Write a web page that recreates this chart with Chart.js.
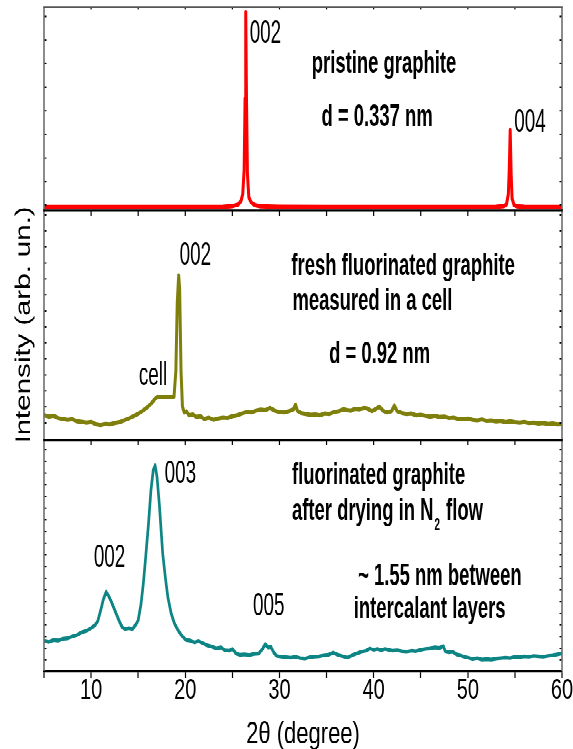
<!DOCTYPE html>
<html>
<head>
<meta charset="utf-8">
<script src="https://cdn.jsdelivr.net/npm/chart.js@4.4.1/dist/chart.umd.min.js"></script>
<style>
  html, body { margin: 0; padding: 0; background: #fff; }
  body { height: 749px; }
  /* the original figure is stretched vertically, so the whole drawing is */
  #wrap { position: relative; width: 573px; height: 535px; transform: scaleY(1.4); transform-origin: 0 0; }
  #wrap canvas { position: absolute; left: 0; top: 0; }
</style>
</head>
<body>
<div id="wrap">
  <canvas id="c1" width="573" height="535"></canvas>
  <canvas id="c2" width="573" height="535"></canvas>
  <canvas id="c3" width="573" height="535"></canvas>
</div>
<script>
// ---- data (2theta in degrees, intensity in arb. units, 0-100 per panel) ----
var pristineX = [5, 10, 15, 20, 24, 25, 25.6, 25.9, 26.1, 26.25, 26.35, 26.42, 26.5, 26.6, 26.75, 27.0, 27.4, 28, 30, 35, 40, 45, 50, 53, 53.8, 54.1, 54.3, 54.4, 54.5, 54.6, 54.7, 54.9, 55.2, 56, 58, 60];
var pristineY = [1.7, 1.7, 1.7, 1.7, 1.8, 2.2, 3.0, 4.5, 8, 20, 55, 97.7, 55, 18, 6.5, 4.0, 2.7, 2.1, 1.8, 1.7, 1.7, 1.7, 1.7, 1.8, 2.2, 3.0, 8, 20, 39.6, 18, 6, 2.8, 2.1, 1.8, 1.7, 1.7];

var freshX = [5, 5.5, 6, 6.5, 7, 7.5, 8, 8.5, 9, 9.5, 10, 10.5, 11, 11.5, 12, 12.5, 13, 13.5, 14, 14.5, 15, 15.5, 16, 16.4, 16.8, 17.0, 18.8, 19.0, 19.15, 19.3, 19.4, 19.55, 19.7, 19.9, 20.1, 20.4, 20.8, 21.2, 21.6, 22, 22.5, 23, 23.5, 24, 24.5, 25, 25.5, 26, 26.5, 27, 27.5, 28, 28.5, 29, 29.5, 30, 30.5, 31, 31.5, 31.7, 31.9, 32.3, 32.8, 33.3, 33.8, 34.3, 34.8, 35.3, 35.8, 36.3, 36.8, 37.2, 37.6, 38.0, 38.5, 39.0, 39.3, 39.8, 40.2, 40.6, 41.0, 41.4, 41.9, 42.2, 42.5, 43, 43.5, 44, 44.5, 45, 45.5, 46, 46.5, 47, 47.5, 48, 48.5, 49, 49.5, 50, 50.5, 51, 51.5, 52, 52.5, 53, 53.5, 54, 54.5, 55, 55.5, 56, 56.5, 57, 57.5, 58, 58.5, 59, 59.5, 60];
var freshY = [10.9, 10.2, 10.6, 9.6, 9.2, 8.8, 9.1, 8.2, 8.0, 7.6, 7.9, 6.9, 6.5, 7.0, 6.8, 7.4, 7.8, 8.6, 9.4, 10.4, 11.5, 12.8, 14.4, 16.0, 18.0, 18.8, 18.8, 30, 60, 71.7, 66, 30, 14.5, 12.0, 12.6, 10.8, 11.2, 10.0, 10.4, 9.2, 9.8, 8.8, 9.4, 9.8, 9.6, 10.4, 10.8, 11.6, 12.2, 12.0, 12.8, 13.2, 13.0, 14.0, 12.8, 12.2, 12.0, 12.6, 13.4, 15.5, 12.8, 11.8, 11.4, 11.0, 11.2, 10.8, 11.6, 11.4, 12.2, 12.6, 13.4, 13.0, 12.8, 13.6, 13.4, 14.0, 13.8, 12.6, 13.4, 14.6, 12.8, 12.0, 12.6, 15.0, 12.6, 11.8, 11.4, 11.6, 10.8, 11.0, 10.6, 10.2, 10.6, 10.0, 10.2, 9.6, 9.8, 9.2, 9.0, 9.4, 8.8, 8.6, 9.0, 8.4, 8.6, 8.2, 8.4, 7.8, 8.2, 7.8, 7.6, 7.9, 7.4, 7.6, 7.2, 7.4, 7.0, 7.2, 6.8, 6.9];

var driedX = [5, 5.5, 6, 6.5, 7, 7.5, 8, 8.5, 9, 9.5, 10, 10.4, 10.7, 11.0, 11.3, 11.6, 11.8, 12.1, 12.4, 12.7, 13.0, 13.3, 13.6, 14.0, 14.4, 14.8, 15.0, 15.3, 15.55, 15.8, 16.1, 16.35, 16.6, 16.8, 17.0, 17.25, 17.6, 17.9, 18.15, 18.5, 18.85, 19.3, 19.7, 20.1, 20.5, 21.0, 21.4, 21.8, 22.3, 22.8, 23.3, 23.8, 24.2, 24.7, 25.0, 25.4, 25.8, 26.3, 26.8, 27.3, 27.8, 28.2, 28.5, 28.8, 29.1, 29.4, 29.7, 30.2, 30.7, 31.2, 31.7, 32.2, 32.7, 33.2, 33.7, 34.2, 34.7, 35.2, 35.7, 36.2, 36.7, 37.2, 37.7, 38.2, 38.7, 39.2, 39.6, 40.0, 40.4, 40.8, 41.2, 41.6, 42.0, 42.5, 43.0, 43.5, 44.0, 44.5, 45.0, 45.5, 46.0, 46.5, 47.0, 47.4, 47.6, 48.0, 48.4, 48.8, 49.2, 49.6, 50.0, 50.5, 51.0, 51.5, 52.0, 52.5, 53.0, 53.5, 54.0, 54.5, 55.0, 55.5, 56.0, 56.5, 57.0, 57.5, 58.0, 58.5, 59.0, 59.5, 60.0];
var driedY = [13.1, 12.6, 13.4, 13.2, 14.0, 14.2, 15.0, 15.6, 16.8, 17.4, 18.6, 19.8, 21.5, 26.0, 31.0, 34.3, 33.0, 30.5, 27.5, 24.5, 21.5, 19.0, 18.2, 18.6, 18.2, 20.4, 22.0, 29.0, 38.0, 49.5, 64.0, 78.0, 87.0, 89.0, 84.0, 72.0, 51.0, 40.0, 32.0, 25.0, 20.6, 17.2, 15.0, 13.4, 13.2, 12.4, 13.0, 12.2, 11.2, 10.6, 9.8, 10.2, 9.0, 8.8, 9.6, 7.6, 7.0, 7.2, 6.9, 7.4, 7.6, 9.6, 11.7, 10.2, 10.4, 8.0, 6.6, 6.2, 6.0, 5.8, 6.2, 5.6, 5.4, 6.0, 6.2, 6.4, 6.8, 7.0, 8.0, 7.0, 6.4, 5.8, 6.8, 7.6, 8.4, 8.8, 9.8, 9.2, 9.6, 9.0, 9.6, 9.2, 8.8, 9.0, 8.6, 8.4, 8.8, 8.6, 9.2, 9.6, 9.8, 10.2, 10.0, 10.8, 8.6, 8.2, 8.4, 7.2, 6.8, 6.2, 5.8, 5.2, 5.6, 5.0, 5.2, 5.0, 5.4, 5.6, 5.8, 5.6, 6.2, 6.0, 6.4, 6.2, 6.6, 6.4, 6.2, 6.6, 6.8, 7.2, 7.7];

var xTickLabels = [10, 20, 30, 40, 50, 60];

// annotations: [text, 2theta of left edge, intensity of baseline, bold]
var pristineNotes = [['002', 26.84, 82.5, false], ['pristine graphite', 33.43, 67.7, true], ['d = 0.337 nm', 34.46, 41.6, true], ['004', 54.93, 38.8, false]];
var freshNotes = [['002', 19.4, 76.3, false], ['fresh fluorinated graphite', 31.27, 71.9, true], ['measured in a cell', 31.38, 56.6, true], ['d = 0.92 nm', 35.27, 33.4, true], ['cell', 15.07, 24.0, false]];
var driedNotes = [['003', 17.81, 81.5, false], ['002', 10.29, 45.1, false], ['005', 27.19, 24.2, false], ['fluorinated graphite', 31.33, 80.9, true], ['after drying in N|2| flow', 31.33, 65.4, true], ['~ 1.55 nm between', 38.35, 37.2, true], ['intercalant layers', 37.89, 22.8, true]];

var SANS = '"Liberation Sans", Arial, sans-serif';
var NARROW_K = 0.82;   // Arial Narrow ~ 82% of Arial width

function toPoints(xs, ys) {
    return xs.map((v, i) => ({x: v, y: ys[i]}));
}

const panelDeco = {
    id: 'panelDeco',
    afterDraw(chart, args, o) {
        const ctx = chart.ctx, a = chart.chartArea, x = chart.scales.x, y = chart.scales.y;
        ctx.save();
        function seg(x1, y1, x2, y2) { ctx.beginPath(); ctx.moveTo(x1, y1); ctx.lineTo(x2, y2); ctx.stroke(); }
        function narrowText(t, px, py, font) {
            ctx.save();
            ctx.font = font;
            ctx.translate(px, py);
            ctx.scale(NARROW_K, 1);
            ctx.fillText(t, 0, 0);
            const w = ctx.measureText(t).width * NARROW_K;
            ctx.restore();
            return w;
        }
        // small inward ticks on left and right axes
        ctx.strokeStyle = '#000';
        ctx.lineWidth = 1;
        for (let v = o.yTickStart; v < 100; v += o.yTickStep) {
            const py = y.getPixelForValue(v);
            seg(a.left, py, a.left + 2.5, py);
            seg(a.right - 2.5, py, a.right, py);
        }
        // inward ticks along the top edge
        ctx.lineWidth = 1.2;
        for (let v = 10; v < 60; v += 5) {
            const px = x.getPixelForValue(v);
            seg(px, a.top, px, a.top + o.topTickLen);
        }
        // frame
        ctx.strokeStyle = '#6e6e6e';
        ctx.lineWidth = 1.6;
        seg(a.left, a.top, a.left, a.bottom);
        seg(a.right, a.top, a.right, a.bottom);
        ctx.strokeStyle = o.topColor;
        ctx.lineWidth = o.topWidth;
        seg(a.left - 0.8, a.top, a.right + 0.8, a.top);
        // annotations
        ctx.fillStyle = '#000';
        ctx.textBaseline = 'alphabetic';
        o.notes.forEach(n => {
            const px = x.getPixelForValue(n[1]), py = y.getPixelForValue(n[2]);
            const font = (n[3] ? 'bold 22.5px ' : '23px ') + SANS;
            let cx = px;
            n[0].split('|').forEach((p, i) => {
                if (i % 2 === 1) {
                    cx += narrowText(p, cx + 1, py + 7, 'bold 12px ' + SANS) + 2;
                } else {
                    cx += narrowText(p, cx, py, font);
                }
            });
        });
        if (o.yTitle) {
            ctx.font = '21px ' + SANS;
            ctx.textAlign = 'center';
            ctx.translate(30, 232);
            ctx.rotate(-Math.PI / 2);
            ctx.fillText(o.yTitle, 0, 0);
        }
        ctx.restore();
    }
};

function makePanel(id, xs, ys, color, width, padTop, padBottom, deco, showX) {
    const ctx = document.getElementById(id).getContext('2d');
    const xScale = {type: 'linear', min: 5, max: 60, display: showX};
    if (showX) {
        Object.assign(xScale, {
            afterFit: function (s) { s.height = 535 - 479.3; },
            border: {display: true, color: '#000', width: 1.6},
            grid: {drawOnChartArea: false, drawTicks: true, tickLength: 5, color: '#000', tickWidth: 1.2},
            ticks: {
                stepSize: 5, autoSkip: false, maxRotation: 0, color: '#000', padding: -1,
                font: {family: SANS, size: 20, lineHeight: 1},
                callback: v => xTickLabels.includes(v) ? String(v) : ''
            },
            title: {
                display: true, text: '2θ (degree)', color: '#000',
                font: {family: SANS, size: 22, lineHeight: 1}, padding: {top: 0, bottom: -1}
            }
        });
    }
    return new Chart(ctx, {
        type: 'line',
        data: {
            datasets: [{
                data: toPoints(xs, ys), borderColor: color, borderWidth: width,
                pointRadius: 0, tension: 0, fill: false, borderJoinStyle: 'round'
            }]
        },
        options: {
            responsive: false, animation: false, devicePixelRatio: 2,
            layout: {padding: {left: 44, right: 11, top: padTop, bottom: padBottom}},
            plugins: {legend: {display: false}, tooltip: {enabled: false}, panelDeco: deco},
            scales: {
                x: xScale,
                y: {min: 0, max: 100, display: false}
            }
        },
        plugins: [panelDeco]
    });
}

makePanel('c1', pristineX, pristineY, '#ff0000', 3, 5.2, 535 - 150.4,
    {yTickStart: 2.7, yTickStep: 11.6, topTickLen: 1.5, topColor: '#555', topWidth: 1.1, notes: pristineNotes}, false);
makePanel('c2', freshX, freshY, '#7f7f0c', 3, 150.4, 535 - 314.3,
    {yTickStart: 7.5, yTickStep: 6.97, topTickLen: 4, topColor: '#000', topWidth: 1.6, notes: freshNotes, yTitle: 'Intensity (arb. un.)'}, false);
makePanel('c3', driedX, driedY, '#0e8585', 2.7, 314.3, 0,
    {yTickStart: 4.8, yTickStep: 5.06, topTickLen: 3.5, topColor: '#000', topWidth: 1.6, notes: driedNotes}, true);
</script>
</body>
</html>
